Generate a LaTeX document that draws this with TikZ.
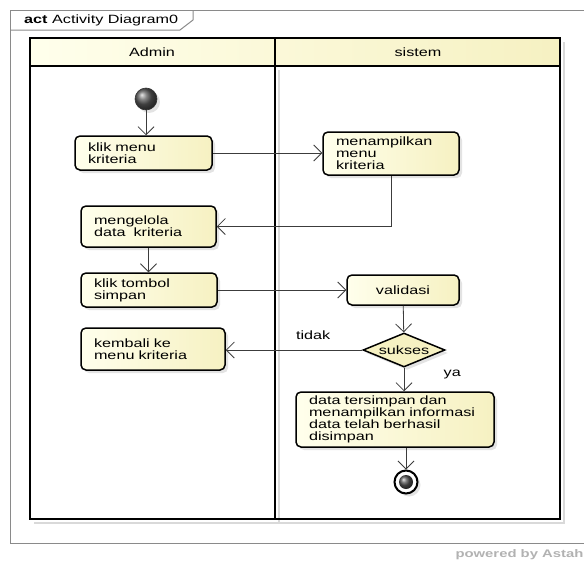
\documentclass[tikz,border=0pt]{standalone}
\usepackage{fontspec}
\setmainfont[FakeStretch=1.35]{Liberation Sans}
\usetikzlibrary{positioning,calc,arrows.meta,shapes.geometric,shadows}

\definecolor{actL}{HTML}{FFFFEC}
\definecolor{actR}{HTML}{F6F1C2}
\definecolor{flowline}{HTML}{3C3C3C}
\definecolor{framegray}{HTML}{8A8A8A}

\begin{document}
\begin{tikzpicture}[x=1pt, y=-1pt, >={Straight Barb[length=8pt,width=16pt]}, font=\fontsize{12}{12}\selectfont, act/.style = {rectangle, rounded corners=5pt, draw, line width=1.5pt, left color=actL, right color=actR, drop shadow={shadow xshift=3pt, shadow yshift=-3pt, fill=black!22}, inner xsep=13pt, inner ysep=0pt, align=left}, choice/.style = {diamond, draw, line width=1.5pt, fill=actR, aspect=2.4, inner sep=0pt, minimum width=82pt, minimum height=34pt, drop shadow={shadow xshift=3pt, shadow yshift=-3pt, fill=black!22}}, startnode/.style = {circle, draw=black!80, line width=0.6pt, ball color=gray!70!black, minimum size=22pt, drop shadow={shadow xshift=3pt, shadow yshift=-3pt, fill=black!22}}, endnode/.style = {circle, draw, line width=2pt, fill=white, minimum size=23pt, drop shadow={shadow xshift=3pt, shadow yshift=-3pt, fill=black!22}}, flow/.style = {->, draw=flowline, line width=0.8pt}]

\useasboundingbox (0,0) rectangle (584,562);

% frame
\draw[framegray, line width=1pt] (584,10) -- (10,10) -- (10,543) -- (584,543);
\draw[framegray, line width=1pt] (10,30) -- (180,30) -- (193,20) -- (193,10);
\node[anchor=west, inner sep=0pt] (judul) at (24,20) {\textbf{act} Activity Diagram0};

% swimlanes
\draw[black!15, line width=2pt] (564,42) -- (564,523) -- (34,523);
\draw[black!15, line width=2pt] (279,70) -- (279,523);
\shade[left color=actL, right color=actR] (30,38) rectangle (560,66);
\draw[line width=2pt] (30,38) rectangle (560,519);
\draw[line width=2pt] (30,66) -- (560,66);
\draw[line width=2.4pt] (275,38) -- (275,519);
\node (admin) at (152,52) {Admin};
\node (sistem) at (418,52) {sistem};

\node[startnode] (awal) at (146,99) {};
\node[act, text width=111pt, minimum height=34pt] (klikmenu) at (143.5,153) {klik menu\\kriteria};
\node[act, text width=110pt, minimum height=43pt] (tampilmenu) at (391,153.5) {menampilkan\\menu\\kriteria};
\node[act, text width=109pt, minimum height=41pt] (kelola) at (148.5,226.5) {mengelola\\data\ \ kriteria};
\node[act, text width=110pt, minimum height=34pt] (kliksimpan) at (149,290) {klik tombol\\simpan};
\node[act, text width=86pt, align=center, minimum height=30pt] (validasi) at (403,290) {validasi};
\node[choice] (sukses) at (404,350) {sukses};
\node[act, text width=118pt, minimum height=42pt] (kembali) at (153,349) {kembali ke\\menu kriteria};
\node[act, text width=172pt, minimum height=55pt] (tersimpan) at (395,419.5) {data tersimpan dan\\menampilkan informasi\\data telah berhasil\\disimpan};
\node[endnode] (akhir) at (406,482) {};
\shade[ball color=gray!65!black] (akhir.center) circle (7pt);

\path
 (awal) edge[flow] (awal |- klikmenu.north)
 (klikmenu.east) edge[flow] (klikmenu.east -| tampilmenu.west)
 (kelola) edge[flow] (kelola |- kliksimpan.north)
 (kliksimpan.east) edge[flow] (kliksimpan.east -| validasi.west)
 (validasi) edge[flow] (sukses)
 (sukses.west) edge[flow] node[above=7pt, pos=0.36] {tidak} (sukses.west -| kembali.east)
 (sukses.south) edge[flow] node[right=36pt, pos=0.3] {ya} (sukses.south |- tersimpan.north)
 (tersimpan.south -| akhir) edge[flow] (akhir);
\draw[flow] (tampilmenu.south) |- (kelola.east);

\node[anchor=west, text=black!30, font=\fontsize{11}{11}\selectfont\bfseries] (astah) at (452,555) {powered by Astah};
\end{tikzpicture}
\end{document}
